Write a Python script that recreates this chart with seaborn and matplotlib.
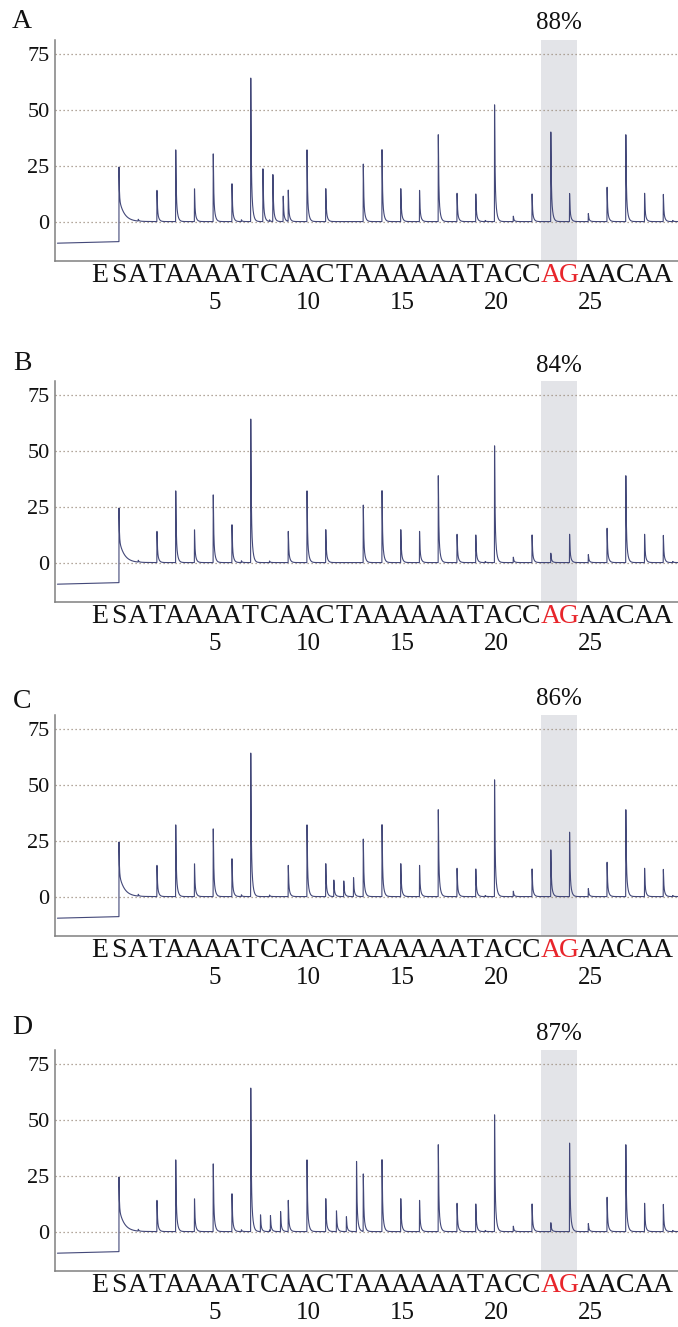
import numpy as np
import pandas as pd
import matplotlib
matplotlib.use("Agg")
import matplotlib.pyplot as plt
import seaborn as sns

# ---------------- data ----------------
letters = list("ESATAAAATCAACTAAAAAATACCAGAACAA")
letter_pos = list(range(-1, 30))
red_idx = [24, 25]
number_pos = [5, 10, 15, 20, 25]
number_labels = ["5", "10", "15", "20", "25"]
yticks = [0, 25, 50, 75]
panel_names = ["A", "B", "C", "D"]
percent_labels = ["88%", "84%", "86%", "87%"]
shade_lo, shade_hi = 22.5, 24.45

common_pos = [2, 3, 4, 5, 6, 7, 9, 10, 11, 13, 14, 15, 16, 17, 18, 19, 20, 21, 22, 25, 26, 27, 28, 29]
common_h = [14, 32.2, 14.7, 30.4, 17, 64.4, 14, 32.2, 14.8, 25.8, 32.3, 14.8, 14, 39, 12.7, 12.4,
            52.4, 2.4, 12.4, 3.6, 15.4, 39, 12.7, 12.2]
bump_pos = [1.0, 6.5, 8.0, 19.5, 29.5]
bump_h = [0.8, 0.8, 0.7, 0.5, 0.5]
s_peak_h = 26.0
s_tail_h = 10.5
pre_level_start, pre_level_end = -9.7, -9.0
trace_start, trace_end = -3.28, 29.81

extra_A_pos = [7.65, 8.18, 8.73, 23, 24]
extra_A_h = [23.7, 21.1, 11.4, 40.2, 12.6]
extra_B_pos = [23, 24]
extra_B_h = [4.2, 12.7]
extra_C_pos = [11.43, 11.96, 12.48, 23, 24]
extra_C_h = [7.4, 7.0, 8.5, 21.0, 28.9]
extra_D_pos = [7.52, 8.05, 8.59, 11.57, 12.1, 12.64, 23, 24]
extra_D_h = [7.5, 7.0, 9.0, 9.3, 6.7, 31.5, 4.0, 39.7]

extras = [(extra_A_pos, extra_A_h), (extra_B_pos, extra_B_h),
          (extra_C_pos, extra_C_h), (extra_D_pos, extra_D_h)]

# ---------------- style ----------------
sns.set_theme(style="white")
plt.rcParams['font.family'] = ['Liberation Serif', 'DejaVu Serif']

LINE = "#434879"
GRID = "#9a8b7c"
SPINE = "#808080"

# peak shape (style, not data): sharp rise then fast + slow decay
def shape(t, fast=0.018, slow=0.07, w_fast=0.7):
    tt = np.clip(t, 0, None)
    s = (1 - np.exp(-tt / 0.005)) * (w_fast * np.exp(-tt / fast) + (1 - w_fast) * np.exp(-tt / slow))
    s = np.where(t >= 0, s, 0.0)
    return s / s.max() if s.max() > 0 else s

def build_trace(pos_list, h_list):
    x = np.arange(trace_start, trace_end, 0.002)
    y = np.zeros_like(x)
    pre = x < 0
    y[pre] = pre_level_start + (pre_level_end - pre_level_start) * (x[pre] - trace_start) / (0 - trace_start)
    t = np.clip(x, 0, None)
    s_part = s_tail_h * np.exp(-t / 0.27) + (s_peak_h - s_tail_h) * np.exp(-t / 0.02)
    s_part = np.where(x >= 0, s_part, 0.0)
    y += s_part
    for p, h in zip(pos_list, h_list):
        y += h * shape(x - (p + 0.02))
    return x, y

fig = plt.figure(figsize=(6.78, 13.27), dpi=100)
W, H = 678.0, 1327.0
tops = [40, 381, 715, 1050]
label_y = [21, 363, 702, 1028]
pct_y = [23, 366, 699, 1034]
ax_h = 221

for i in range(4):
    ax = fig.add_axes([55 / W, 1 - (tops[i] + ax_h) / H, 623 / W, ax_h / H])
    pos = common_pos + bump_pos + extras[i][0]
    hts = common_h + bump_h + extras[i][1]
    x, y = build_trace(pos, hts)
    ax.axvspan(shade_lo, shade_hi, color="#e3e4e8", zorder=0.1, lw=0)
    sns.lineplot(x=x, y=y, ax=ax, color=LINE, linewidth=0.8, estimator=None, sort=False, zorder=3)
    ax.set_xlim(-3.41, 29.81)
    ax.set_ylim(-17.7, 81.5)
    ax.set_yticks(yticks)
    ax.set_yticklabels([str(v) for v in yticks], fontsize=16)
    ax.yaxis.grid(True, color=GRID, linestyle=(0, (1, 2.2)), linewidth=0.9)
    ax.xaxis.grid(False)
    ax.set_axisbelow(True)
    ax.set_xticks(letter_pos)
    ax.set_xticklabels(letters, fontsize=20)
    for j, lab in enumerate(ax.get_xticklabels()):
        if j in red_idx:
            lab.set_color("#e8252b")
        else:
            lab.set_color("#111111")
    ax.tick_params(axis="x", direction="in", length=3, width=0.8, color=SPINE, pad=1.5)
    ax.tick_params(axis="y", length=0, pad=4, labelcolor="#111111")
    for s in ["top", "right"]:
        ax.spines[s].set_visible(False)
    for s in ["left", "bottom"]:
        ax.spines[s].set_color(SPINE)
        ax.spines[s].set_linewidth(1.1)
    ax.set_xlabel("")
    ax.set_ylabel("")
    for p, lab in zip(number_pos, number_labels):
        ax.annotate(lab, xy=(p, 0), xycoords=("data", "axes fraction"),
                    xytext=(1.5, -30.5), textcoords="offset points",
                    ha="center", va="center", fontsize=18, color="#111111")
    fig.text(22 / W, 1 - label_y[i] / H, panel_names[i], fontsize=20, ha="center", va="center",
             color="#111111")
    fig.text(((shade_lo + shade_hi) / 2 + 3.41) / (29.81 + 3.41) * 623 / W + 55 / W, 1 - pct_y[i] / H,
             percent_labels[i], fontsize=18, ha="center", va="center", color="#111111")

fig.savefig("out.png", dpi=100)
